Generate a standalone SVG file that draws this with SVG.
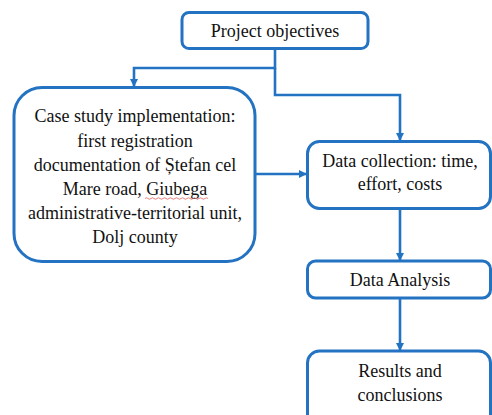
<svg xmlns="http://www.w3.org/2000/svg" width="492" height="415" viewBox="0 0 492 415">
<style>
.box{fill:#ffffff;stroke:#2373C2;stroke-width:3}
.con{fill:none;stroke:#2373C2;stroke-width:2.6}
.t{font-family:'Liberation Serif','Tinos','Times New Roman','DejaVu Serif',serif;font-size:18px;fill:#111111;text-anchor:middle}
</style>
<defs>
<marker id="arr" markerWidth="8" markerHeight="8" refX="7" refY="4" orient="auto" markerUnits="userSpaceOnUse">
<path d="M0,0 L8,4 L0,8 Z" fill="#2373C2"/>
</marker>
</defs>
<rect width="492" height="415" fill="#ffffff"/>
<g id="connectors">
<path class="con" d="M275,49 V68 H134 V86" marker-end="url(#arr)"/>
<path class="con" d="M275,68 V95 H400 V140" marker-end="url(#arr)"/>
<path class="con" d="M255,174 H306" marker-end="url(#arr)"/>
<path class="con" d="M400,209 V260" marker-end="url(#arr)"/>
<path class="con" d="M400,298 V350" marker-end="url(#arr)"/>
</g>
<g id="project-objectives">
<rect class="box" x="182" y="12.5" width="186" height="36" rx="7"/>
<text class="t" font-family="Liberation Serif, serif" x="275" y="37">Project objectives</text>
</g>
<g id="case-study">
<rect class="box" x="14" y="87.5" width="241" height="174" rx="28"/>
<text class="t" x="135" y="122">Case study implementation:</text>
<text class="t" x="135" y="147">first registration</text>
<text class="t" x="135" y="171">documentation of Ștefan cel</text>
<text class="t" x="135" y="195">Mare road, Giubega</text>
<text class="t" x="135" y="219">administrative-territorial unit,</text>
<text class="t" x="135" y="243">Dolj county</text>
<path d="M145,198.5 q1.5,-1.5 3,0 t3,0 t3,0 t3,0 t3,0 t3,0 t3,0 t3,0 t3,0 t3,0 t3,0 t3,0 t3,0 t3,0 t3,0 t3,0 t3,0 t3,0 t3,0 t3,0 t3,0" fill="none" stroke="#e06060" stroke-width="0.8"/>
</g>
<g id="data-collection">
<rect class="box" x="307.5" y="141.5" width="183" height="67" rx="12"/>
<text class="t" x="400" y="167">Data collection: time,</text>
<text class="t" x="400" y="190">effort, costs</text>
</g>
<g id="data-analysis">
<rect class="box" x="307.5" y="261" width="183" height="37" rx="8"/>
<text class="t" x="400" y="286">Data Analysis</text>
</g>
<g id="results">
<rect class="box" x="307.5" y="351" width="183" height="75" rx="12"/>
<text class="t" x="400" y="377">Results and</text>
<text class="t" x="400" y="401">conclusions</text>
</g>
</svg>
